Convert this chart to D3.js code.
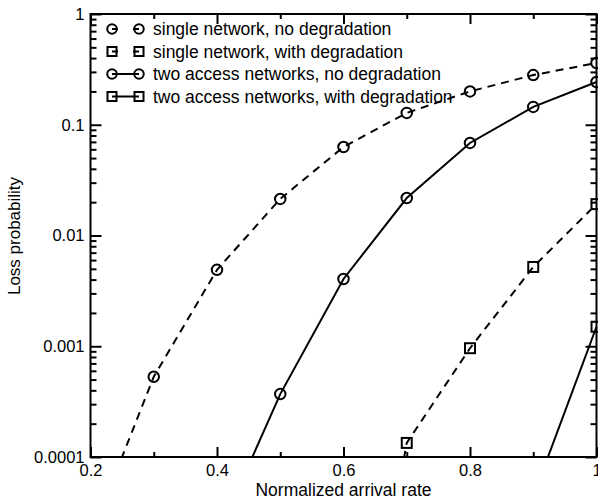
<!DOCTYPE html>
<html>
<head>
<meta charset="utf-8">
<script src="https://cdn.jsdelivr.net/npm/d3@7"></script>
<style>
  html, body { margin: 0; padding: 0; background: #fff; }
  svg { display: block; font-family: "Liberation Sans", Arial, sans-serif; }
</style>
</head>
<body>
<svg id="chart" width="598" height="502"></svg>
<script>
// Normalized arrival rate (x) and loss probability for each scenario
const arrivalRates = [0.2, 0.3, 0.4, 0.5, 0.6, 0.7, 0.8, 0.9, 1.0];
const singleNoDeg  = [1.9e-5, 0.00053, 0.0049, 0.0214, 0.063, 0.128, 0.2, 0.281, 0.361];
const singleDegX   = [0.6, 0.7, 0.8, 0.9, 1.0];
const singleDeg    = [1e-7, 0.000134, 0.00096, 0.0052, 0.0192];
const twoNoDegX    = [0.4, 0.5, 0.6, 0.7, 0.8, 0.9, 1.0];
const twoNoDeg     = [1.9e-5, 0.00037, 0.00405, 0.0218, 0.0685, 0.145, 0.243];
const twoDegX      = [0.9, 1.0];
const twoDeg       = [4.4e-5, 0.0015];

const seriesNames = [
  "single network, no degradation",
  "single network, with degradation",
  "two access networks, no degradation",
  "two access networks, with degradation"
];
const xTickValues = [0.2, 0.4, 0.6, 0.8, 1.0];
const xTickLabels = ["0.2", "0.4", "0.6", "0.8", "1"];
const yTickValues = [1e-4, 1e-3, 1e-2, 1e-1, 1];
const yTickLabels = ["0.0001", "0.001", "0.01", "0.1", "1"];

const series = [
  { name: seriesNames[0], xs: arrivalRates, ys: singleNoDeg, marker: "circle", dashed: true },
  { name: seriesNames[1], xs: singleDegX,   ys: singleDeg,   marker: "square", dashed: true },
  { name: seriesNames[2], xs: twoNoDegX,    ys: twoNoDeg,    marker: "circle", dashed: false },
  { name: seriesNames[3], xs: twoDegX,      ys: twoDeg,      marker: "square", dashed: false }
];

const svg = d3.select("#chart");
const plotL = 90.5, plotR = 596.5, plotT = 14, plotB = 457;
const TICK_FONT = 16.5, LABEL_FONT = 17.5;

const x = d3.scaleLinear().domain([0.2, 1.0]).range([plotL, plotR]);
const y = d3.scaleLog().domain([1e-4, 1]).range([plotB, plotT]);

svg.append("defs").append("clipPath").attr("id", "plotClip")
  .append("rect").attr("x", plotL).attr("y", plotT)
  .attr("width", 598 - plotL).attr("height", plotB - plotT);

// Minor ticks
const xMinor = [0.3, 0.5, 0.7, 0.9];
const yMinor = [];
[1e-4, 1e-3, 1e-2, 1e-1].forEach(d => { for (let k = 2; k <= 9; k++) yMinor.push(d * k); });

function styleAxis(g) {
  g.select(".domain").remove();
  g.selectAll("line").attr("stroke", "#000").attr("stroke-width", 2);
  g.selectAll("text").attr("font-size", TICK_FONT).attr("fill", "#000")
    .attr("font-family", "'Liberation Sans', Arial, sans-serif");
}

// Bottom axis (labelled) and top axis, ticks pointing inward
svg.append("g").attr("transform", `translate(0,${plotB})`)
  .call(d3.axisBottom(x).tickValues(xTickValues).tickSize(-10).tickPadding(7)
    .tickFormat((d, i) => xTickLabels[i]))
  .call(styleAxis);
svg.append("g").attr("transform", `translate(0,${plotB})`)
  .call(d3.axisBottom(x).tickValues(xMinor).tickSize(-5).tickFormat(""))
  .call(styleAxis);
svg.append("g").attr("transform", `translate(0,${plotT})`)
  .call(d3.axisTop(x).tickValues(xTickValues).tickSize(-10).tickFormat(""))
  .call(styleAxis);
svg.append("g").attr("transform", `translate(0,${plotT})`)
  .call(d3.axisTop(x).tickValues(xMinor).tickSize(-5).tickFormat(""))
  .call(styleAxis);

// Left axis (labelled) and right axis
svg.append("g").attr("transform", `translate(${plotL},0)`)
  .call(d3.axisLeft(y).tickValues(yTickValues).tickSize(-11).tickPadding(6)
    .tickFormat((d, i) => yTickLabels[i]))
  .call(styleAxis);
svg.append("g").attr("transform", `translate(${plotL},0)`)
  .call(d3.axisLeft(y).tickValues(yMinor).tickSize(-6).tickFormat(""))
  .call(styleAxis);
svg.append("g").attr("transform", `translate(${plotR},0)`)
  .call(d3.axisRight(y).tickValues(yTickValues).tickSize(-11).tickFormat(""))
  .call(styleAxis);
svg.append("g").attr("transform", `translate(${plotR},0)`)
  .call(d3.axisRight(y).tickValues(yMinor).tickSize(-6).tickFormat(""))
  .call(styleAxis);

// Frame
svg.append("rect").attr("x", plotL).attr("y", plotT)
  .attr("width", plotR - plotL).attr("height", plotB - plotT)
  .attr("fill", "none").attr("stroke", "#000").attr("stroke-width", 2);

// Axis titles
svg.append("text").attr("x", (plotL + plotR) / 2).attr("y", 496)
  .attr("text-anchor", "middle").attr("font-size", LABEL_FONT).text("Normalized arrival rate");
svg.append("text").attr("transform", `translate(20,236) rotate(-90)`)
  .attr("text-anchor", "middle").attr("font-size", 17).text("Loss probability");

// Series lines and markers
const plot = svg.append("g").attr("clip-path", "url(#plotClip)");
const line = d3.line().x(d => x(d[0])).y(d => y(d[1]));
const DASH = "8,6";

function drawMarker(g, type, cx, cy, size) {
  if (type === "circle") {
    g.append("circle").attr("cx", cx).attr("cy", cy).attr("r", size / 2)
      .attr("fill", "none").attr("stroke", "#000").attr("stroke-width", 2);
  } else {
    const s = size * 0.95;
    g.append("rect").attr("x", cx - s / 2).attr("y", cy - s / 2).attr("width", s).attr("height", s)
      .attr("fill", "none").attr("stroke", "#000").attr("stroke-width", 2);
  }
}

series.forEach(s => {
  const pts = s.xs.map((v, i) => [v, s.ys[i]]);
  plot.append("path").datum(pts).attr("d", line)
    .attr("fill", "none").attr("stroke", "#000").attr("stroke-width", 2)
    .attr("stroke-dasharray", s.dashed ? DASH : null);
  pts.forEach(p => drawMarker(plot, s.marker, x(p[0]), y(p[1]), 10.5));
});

// Legend
const legend = svg.append("g");
const lx1 = 112, lx2 = 139, ly0 = 29, lstep = 22.5;
series.forEach((s, i) => {
  const ly = ly0 + i * lstep;
  legend.append("line").attr("x1", lx1).attr("x2", lx2).attr("y1", ly).attr("y2", ly)
    .attr("stroke", "#000").attr("stroke-width", 2)
    .attr("stroke-dasharray", s.dashed ? "6,15,6,100" : null);
  drawMarker(legend, s.marker, lx1, ly, 9.5);
  drawMarker(legend, s.marker, lx2, ly, 9.5);
  legend.append("text").attr("x", 153).attr("y", ly + 6)
    .attr("font-size", LABEL_FONT).text(s.name);
});
</script>
</body>
</html>
